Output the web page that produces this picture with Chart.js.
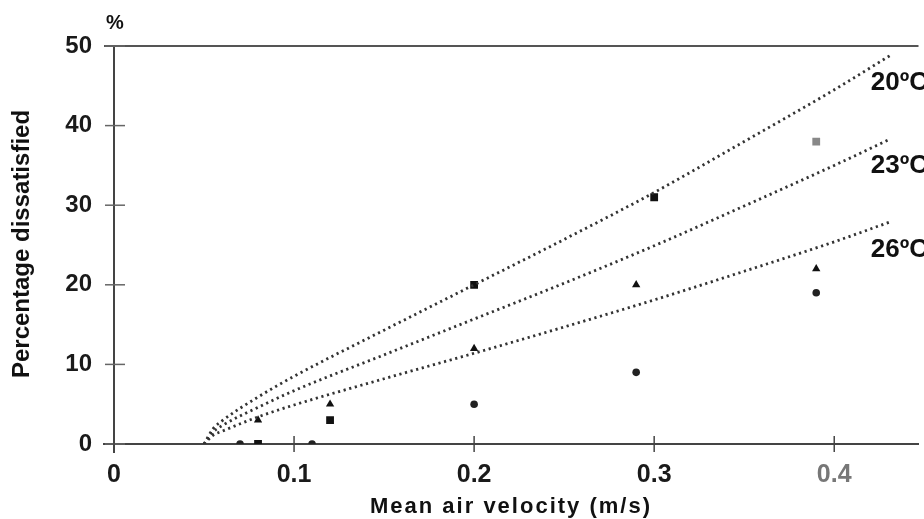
<!DOCTYPE html>
<html>
<head>
<meta charset="utf-8">
<script src="https://cdn.jsdelivr.net/npm/chart.js@4.4.0/dist/chart.umd.min.js"></script>
<style>
  body { margin: 0; background: #fff; }
  canvas { display: block; }
</style>
</head>
<body>
<canvas id="chart" width="924" height="519"></canvas>
<script>
const xTicks = [0, 0.1, 0.2, 0.3, 0.4];
const yTicks = [0, 10, 20, 30, 40, 50];

// dotted curves
const curveX = [0.05, 0.055, 0.06, 0.08, 0.1, 0.15, 0.2, 0.25, 0.3, 0.35, 0.4, 0.431];
const curve20 = [0, 1.9, 2.9, 5.9, 8.5, 14.3, 20, 25.7, 31.6, 38, 44.5, 48.8];
const curve23 = [0, 1.5, 2.3, 4.6, 6.7, 11.2, 15.7, 20.2, 24.9, 29.9, 35, 38.3];
const curve26 = [0, 1.1, 1.6, 3.4, 4.9, 8.2, 11.4, 14.7, 18.1, 21.7, 25.4, 27.9];
const curveNames = ['20ºC', '23ºC', '26ºC'];

// measured points
const squareX = [0.08, 0.12, 0.2, 0.3];
const squareY = [0, 3, 20, 31];
const greySquareX = [0.39];
const greySquareY = [38];
const triX = [0.08, 0.12, 0.2, 0.29, 0.39];
const triY = [3, 5, 12, 20, 22];
const dotX = [0.07, 0.11, 0.2, 0.29, 0.39];
const dotY = [0, 0, 5, 9, 19];

const pts = (xs, ys) => xs.map((x, i) => ({ x: x, y: ys[i] }));

function curveSet(ys) {
    return {
        type: 'line',
        data: pts(curveX, ys),
        borderColor: '#333',
        borderWidth: 2.8,
        borderDash: [2.2, 3.6],
        pointRadius: 0,
        cubicInterpolationMode: 'monotone',
        fill: false
    };
}

function markerSet(xs, ys, style, r, color) {
    return {
        type: 'scatter',
        data: pts(xs, ys),
        pointStyle: style,
        pointRadius: r,
        backgroundColor: color,
        borderColor: color,
        borderWidth: 0
    };
}

const FONT = '"Liberation Sans", Arial, sans-serif';

const decor = {
    id: 'decor',
    afterDraw(chart) {
        const ctx = chart.ctx;
        const xs = chart.scales.x;
        const ys = chart.scales.y;
        const a = chart.chartArea;
        ctx.save();
        // top frame line
        ctx.strokeStyle = '#555';
        ctx.lineWidth = 2;
        ctx.beginPath();
        ctx.moveTo(104, a.top);
        ctx.lineTo(a.right, a.top);
        ctx.stroke();
        // axis stubs past the origin
        ctx.strokeStyle = '#444';
        ctx.beginPath();
        ctx.moveTo(103, a.bottom);
        ctx.lineTo(a.left, a.bottom);
        ctx.moveTo(a.left, a.bottom);
        ctx.lineTo(a.left, a.bottom + 9);
        ctx.stroke();
        // tick marks crossing the axes
        ctx.strokeStyle = '#666';
        ctx.lineWidth = 1.5;
        yTicks.forEach(v => {
            const p = ys.getPixelForValue(v);
            ctx.beginPath();
            ctx.moveTo(a.left - 9, p);
            ctx.lineTo(a.left + 11, p);
            ctx.stroke();
        });
        ctx.strokeStyle = '#444';
        xTicks.forEach(v => {
            const p = xs.getPixelForValue(v);
            ctx.beginPath();
            ctx.moveTo(p, a.bottom - 8);
            ctx.lineTo(p, a.bottom + 8);
            ctx.stroke();
        });
        ctx.fillStyle = '#111';
        // curve labels
        ctx.font = 'bold 26px ' + FONT;
        ctx.textAlign = 'right';
        ctx.textBaseline = 'middle';
        const labelY = [45.4, 34.9, 24.4];
        curveNames.forEach((t, i) => {
            ctx.fillText(t, 928, ys.getPixelForValue(labelY[i]));
        });
        // percent sign
        ctx.font = 'bold 20px ' + FONT;
        ctx.textAlign = 'center';
        ctx.fillText('%', 115, 23);
        // axis titles
        ctx.font = 'bold 22px ' + FONT;
        ctx.letterSpacing = '2px';
        ctx.fillText('Mean air velocity (m/s)', 511, 507);
        ctx.letterSpacing = '0px';
        ctx.translate(22, 244);
        ctx.rotate(-Math.PI / 2);
        ctx.font = 'bold 24px ' + FONT;
        ctx.fillText('Percentage dissatisfied', 0, 0);
        ctx.restore();
    }
};

new Chart(document.getElementById('chart').getContext('2d'), {
    data: {
        datasets: [
            curveSet(curve20),
            curveSet(curve23),
            curveSet(curve26),
            markerSet(squareX, squareY, 'rect', 5.5, '#111'),
            markerSet(greySquareX, greySquareY, 'rect', 5.5, '#888'),
            markerSet(triX, triY, 'triangle', 4.8, '#111'),
            markerSet(dotX, dotY, 'circle', 3.8, '#222')
        ]
    },
    options: {
        responsive: false,
        animation: false,
        layout: { padding: { left: 0, right: 0, top: 46, bottom: 0 } },
        plugins: { legend: { display: false }, tooltip: { enabled: false } },
        scales: {
            x: {
                type: 'linear',
                min: 0,
                max: 0.4468,
                afterBuildTicks: s => { s.ticks = xTicks.map(v => ({ value: v })); },
                afterFit: s => { s.height = 75; },
                grid: { display: false, drawTicks: false },
                border: { display: true, color: '#444', width: 2 },
                ticks: {
                    padding: 16,
                    maxRotation: 0,
                    font: { family: FONT, size: 25, weight: 'bold' },
                    color: ctx => ctx.tick.value === 0.4 ? '#777' : '#1a1a1a',
                    callback: v => String(v)
                }
            },
            y: {
                min: 0,
                max: 50,
                afterBuildTicks: s => { s.ticks = yTicks.map(v => ({ value: v })); },
                afterFit: s => { s.width = 114; },
                grid: { display: false, drawTicks: false },
                border: { display: true, color: '#444', width: 2 },
                ticks: {
                    padding: 22,
                    font: { family: FONT, size: 24, weight: 'bold' },
                    color: '#1a1a1a'
                }
            }
        }
    },
    plugins: [decor]
});
</script>
</body>
</html>
